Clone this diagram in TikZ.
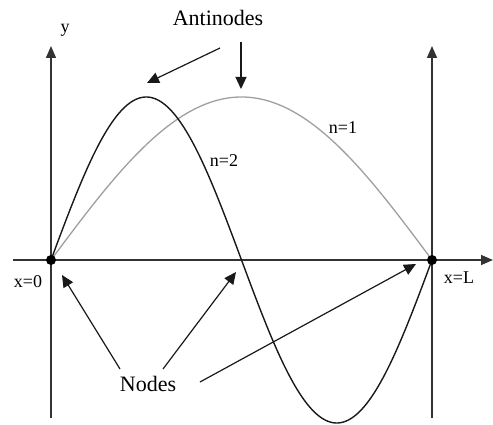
\documentclass[tikz,border=0pt]{standalone}
\usepackage{fontspec}
\setmainfont{Liberation Serif}
\usetikzlibrary{arrows.meta}
\begin{document}
\begin{tikzpicture}[x=1pt,y=-1pt,
  axis/.style={draw=black!80,line width=1.4pt},
  tip/.style={-{Triangle[length=12pt,width=10pt]}},
  pointer/.style={draw=black!90,line width=1.2pt,-{Triangle[length=12pt,width=11pt]}},
  big/.style={font=\fontsize{22}{24}\selectfont,inner sep=0pt},
  small/.style={font=\fontsize{18}{20}\selectfont,inner sep=0pt},
  dot/.style={circle,fill=black,inner sep=0pt,minimum size=10pt}]
\useasboundingbox (0,0) rectangle (493,425);
% axes
\coordinate (hs) at (13,260);
\coordinate (he) at (493,260);
\coordinate (l0) at (51,418);
\coordinate (l1) at (51,46);
\coordinate (r0) at (432,418);
\coordinate (r1) at (432,46);
\draw[axis,tip] (hs) -- (he);
\draw[axis,tip] (l0) -- (l1);
\draw[axis,tip] (r0) -- (r1);
% curves
\draw[gray!75,line width=1.3pt] plot[domain=0:1,samples=200] ({51+381*\x},{260-163*sin(180*\x)});
\draw[black!90,line width=1.4pt] plot[domain=0:1,samples=300] ({51+381*\x},{260-163*sin(360*\x)});
% node dots
\node[dot] (d0) at (51,260) {};
\node[dot] (dL) at (432,260) {};
% labels
\node[small] (ylab) at (65,30) {y};
\node[small] (n2) at (224,161) {n=2};
\node[small] (n1) at (343,128) {n=1};
\node[small] (x0) at (28,282) {x=0};
\node[small] (xL) at (459,278) {x=L};
\node[big] (anti) at (218,18) {Antinodes};
\node[big] (nodes) at (148,384) {Nodes};
% pointers
\coordinate (a1s) at (220,48);
\coordinate (a1e) at (147,83);
\coordinate (a2s) at (241,42);
\coordinate (a2e) at (241,89);
\draw[pointer] (a1s) -- (a1e);
\draw[pointer] (a2s) -- (a2e);
\coordinate (n1s) at (120,369);
\coordinate (n1e) at (62,275);
\coordinate (n2s) at (163,369);
\coordinate (n2e) at (236,272);
\coordinate (n3s) at (200,382);
\coordinate (n3e) at (416,264);
\draw[pointer] (n1s) -- (n1e);
\draw[pointer] (n2s) -- (n2e);
\draw[pointer] (n3s) -- (n3e);
\end{tikzpicture}
\end{document}
